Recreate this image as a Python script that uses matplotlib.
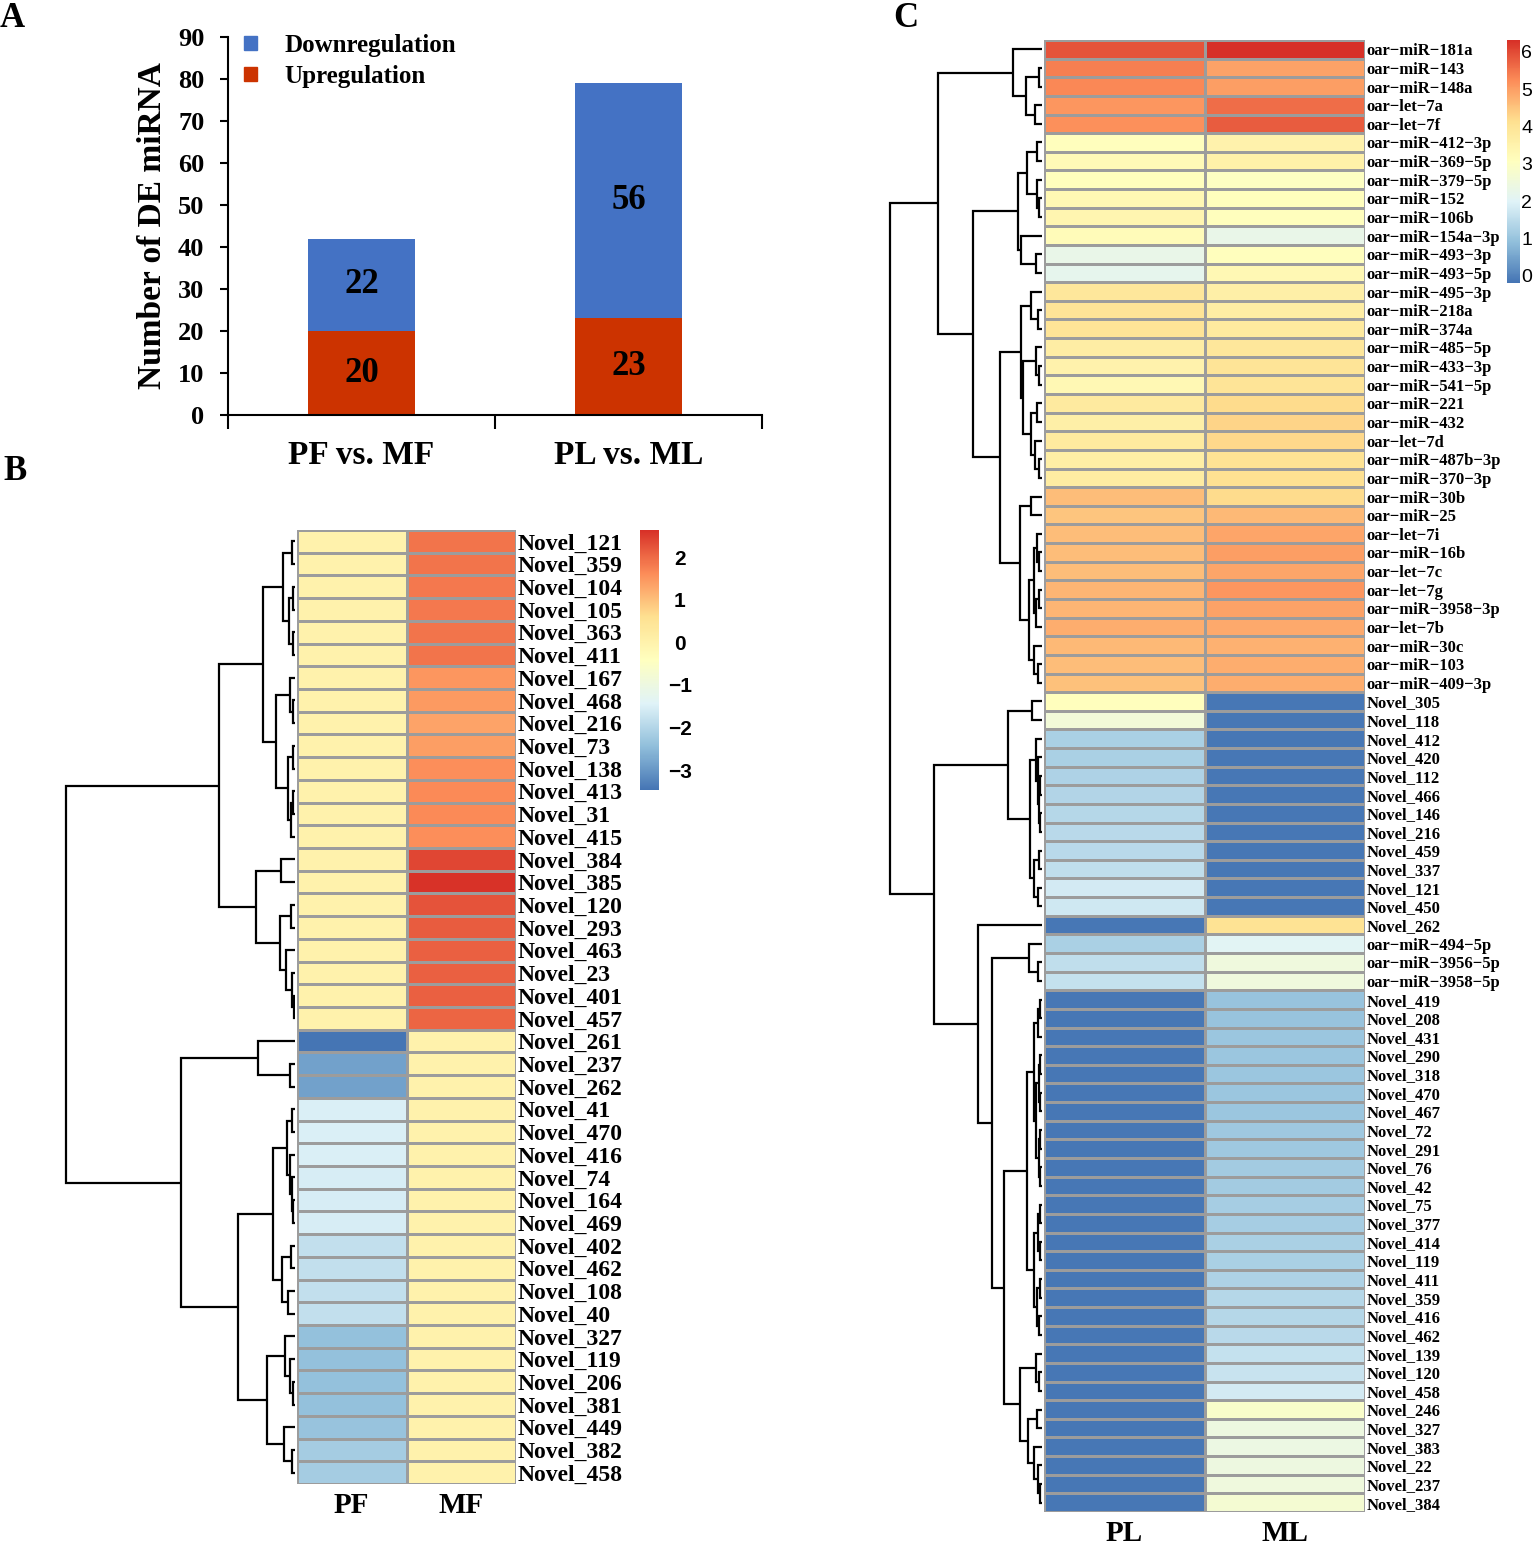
import matplotlib
matplotlib.use("Agg")
import matplotlib.pyplot as plt
from matplotlib.colors import LinearSegmentedColormap, Normalize
from matplotlib.patches import Patch
import numpy as np

W, H, DPI = 1535, 1551, 100
SERIF = "Liberation Serif"
SANS = "Liberation Sans"

# ---------------- Panel A data ----------------
comparisons = ["PF vs. MF", "PL vs. ML"]
upregulation = [20, 23]
downregulation = [22, 56]

# ---------------- Panel B data ----------------
b_rows = ["Novel_121", "Novel_359", "Novel_104", "Novel_105", "Novel_363", "Novel_411",
          "Novel_167", "Novel_468", "Novel_216", "Novel_73", "Novel_138", "Novel_413",
          "Novel_31", "Novel_415", "Novel_384", "Novel_385", "Novel_120", "Novel_293",
          "Novel_463", "Novel_23", "Novel_401", "Novel_457", "Novel_261", "Novel_237",
          "Novel_262", "Novel_41", "Novel_470", "Novel_416", "Novel_74", "Novel_164",
          "Novel_469", "Novel_402", "Novel_462", "Novel_108", "Novel_40", "Novel_327",
          "Novel_119", "Novel_206", "Novel_381", "Novel_449", "Novel_382", "Novel_458"]
b_pf = [0.0] * 22 + [-3.45, -2.85, -2.85, -1.5, -1.5, -1.5, -1.55, -1.55, -1.55,
                     -1.8, -1.8, -1.8, -1.8, -2.4, -2.4, -2.4, -2.4, -2.35, -2.2, -2.2]
b_mf = [1.9, 1.9, 1.85, 1.85, 1.9, 1.9, 1.5, 1.45, 1.35, 1.4, 1.6, 1.65, 1.65, 1.6,
        2.4, 2.6, 2.25, 2.15, 2.1, 2.1, 2.1, 2.05] + [0.0] * 20
b_columns = ["PF", "MF"]
b_ticks = [-3, -2, -1, 0, 1, 2]
# dendrogram: (merge height, left, right); leaves are row indices
TREE_B = (229,
          (76,
           (32,
            (12, (3, 0, 1), (6, (2, 2, 3), (2, 4, 5))),
            (19, (5, 6, (2, 7, 8)), (7, (2, 9, 10), (4, (2, 11, 12), 13)))),
           (39,
            (14, 14, 15),
            (15, (4, 16, 17), (9, 18, (3, 19, (1, 20, 21)))))),
          (114,
           (37, 22, (5, 23, 24)),
           (57,
            (22,
             (8, (3, 25, 26), (5, 27, (3, 28, (2, 29, 30)))),
             (13, (4, 31, 32), (7, 33, 34))),
            (28,
             (10, 35, (5, 36, (2, 37, 38))),
             (11, 39, (3, 40, 41))))))

# ---------------- Panel C data ----------------
c_rows = ["oar−miR−181a", "oar−miR−143", "oar−miR−148a", "oar−let−7a", "oar−let−7f",
          "oar−miR−412−3p", "oar−miR−369−5p", "oar−miR−379−5p", "oar−miR−152", "oar−miR−106b",
          "oar−miR−154a−3p", "oar−miR−493−3p", "oar−miR−493−5p", "oar−miR−495−3p", "oar−miR−218a",
          "oar−miR−374a", "oar−miR−485−5p", "oar−miR−433−3p", "oar−miR−541−5p", "oar−miR−221",
          "oar−miR−432", "oar−let−7d", "oar−miR−487b−3p", "oar−miR−370−3p", "oar−miR−30b",
          "oar−miR−25", "oar−let−7i", "oar−miR−16b", "oar−let−7c", "oar−let−7g",
          "oar−miR−3958−3p", "oar−let−7b", "oar−miR−30c", "oar−miR−103", "oar−miR−409−3p",
          "Novel_305", "Novel_118", "Novel_412", "Novel_420", "Novel_112", "Novel_466",
          "Novel_146", "Novel_216", "Novel_459", "Novel_337", "Novel_121", "Novel_450",
          "Novel_262", "oar−miR−494−5p", "oar−miR−3956−5p", "oar−miR−3958−5p",
          "Novel_419", "Novel_208", "Novel_431", "Novel_290", "Novel_318", "Novel_470",
          "Novel_467", "Novel_72", "Novel_291", "Novel_76", "Novel_42", "Novel_75",
          "Novel_377", "Novel_414", "Novel_119", "Novel_411", "Novel_359", "Novel_416",
          "Novel_462", "Novel_139", "Novel_120", "Novel_458", "Novel_246", "Novel_327",
          "Novel_383", "Novel_22", "Novel_237", "Novel_384"]
c_pl = [5.9, 5.4, 5.3, 5.1, 5.2,
        3.1, 3.25, 3.1, 3.3, 3.4, 3.2, 2.3, 2.2,
        3.9, 4.0, 4.0, 3.7, 3.5, 3.3, 3.8, 3.6, 3.8, 3.65, 3.75,
        4.6, 4.5, 4.6, 4.6, 4.6, 4.7, 4.7, 4.8, 4.65, 4.6, 4.55,
        3.1, 2.6, 1.25, 1.25, 1.3, 1.35, 1.4, 1.45, 1.45, 1.55, 1.8, 1.75,
        -0.15, 1.25, 1.55, 1.6] + [-0.15] * 28
c_ml = [6.3, 4.95, 5.0, 5.6, 5.8,
        3.5, 3.55, 3.0, 3.1, 3.1, 2.3, 3.1, 3.3,
        3.6, 3.7, 3.8, 3.9, 4.0, 4.0, 4.2, 4.3, 4.25, 4.05, 4.1,
        4.2, 4.65, 4.9, 5.0, 4.9, 5.1, 4.95, 4.85, 4.75, 4.8, 4.8,
        -0.15, -0.15, -0.15, -0.15, -0.15, -0.15, -0.15, -0.15, -0.15, -0.15, -0.15, -0.15,
        4.05, 2.05, 2.5, 2.5,
        1.0, 1.0, 1.05, 1.05, 1.05, 1.05, 1.05, 1.1, 1.1, 1.15, 1.15, 1.2, 1.2, 1.25,
        1.25, 1.3, 1.4, 1.4, 1.45, 1.6, 1.65, 1.8, 2.85, 2.45, 2.4, 2.45, 2.5, 2.7]
c_columns = ["PL", "ML"]
c_ticks = [0, 1, 2, 3, 4, 5, 6]
TREE_C = (152,
          (104,
           (29, 0, (16, (3, 1, 2), (7, 3, 4))),
           (69,
            (24,
             (15, (5, 5, 6), (5, 7, (3, 8, 9))),
             (21, 10, (6, 11, 12))),
            (42,
             (21,
              (11, 13, (4, 14, 15)),
              (19, (6, 16, (3, 17, 18)), (11, (5, 19, 20), (7, 21, (3, 22, 23))))),
             (22,
              (11, 24, 25),
              (13,
               (8, (5, 26, (3, 27, 28)), (6, (3, 29, 30), 31)),
               (8, 32, (4, 33, 34))))))),
          (108,
           (34,
            (10, 35, 36),
            (12,
             (6, 37, (4, 38, (3, (2, 39, 40), (2, 41, 42)))),
             (8, (3, 43, 44), (4, 45, 46)))),
           (64,
            47,
            (50,
             (13, 48, (4, 49, 50)),
             (38,
              (15,
               (8, (4, (2, 51, 52), 53),
                (6, (3, (2, 54, 55), (2, 56, 57)), (3, (2, 58, 59), (2, 60, 61)))),
               (8, (4, (2, 62, 63), (2, 64, 65)), (5, (2, 66, 67), (3, 68, 69)))),
              (22,
               (6, 70, (3, 71, 72)),
               (14, (5, 73, 74), (8, 75, (4, 76, (2, 77, 78))))))))))

HEAT_COLORS = ["#4575B4", "#91BFDB", "#E0F3F8", "#FFFFBF", "#FEE090", "#FC8D59", "#D73027"]
cmap = LinearSegmentedColormap.from_list("rdylbu_r", HEAT_COLORS, N=256)

fig = plt.figure(figsize=(W / DPI, H / DPI), dpi=DPI)
fig.patch.set_facecolor("white")


def px_axes(x0, y0, x1, y1):
    return fig.add_axes([x0 / W, 1 - y1 / H, (x1 - x0) / W, (y1 - y0) / H])


def draw_dendro(ax, node):
    if isinstance(node, int):
        return node + 0.5, 0.0
    h, left, right = node
    yl, hl = draw_dendro(ax, left)
    yr, hr = draw_dendro(ax, right)
    ax.plot([hl, h, h, hr], [yl, yl, yr, yr], color="black", lw=1.6,
            solid_joinstyle="miter", solid_capstyle="butt")
    return (yl + yr) / 2, h


def heatmap(ax, cols, rows, colnames, vmin, vmax, label_size, col_size, col_pad):
    M = np.column_stack(cols)
    mesh = ax.pcolormesh(M, cmap=cmap, norm=Normalize(vmin, vmax),
                         edgecolors="#9C9C9C", linewidth=1.0)
    ax.set_xlim(0, M.shape[1])
    ax.set_ylim(M.shape[0], 0)
    ax.set_yticks(np.arange(len(rows)) + 0.5)
    ax.set_yticklabels(rows, fontfamily=SERIF, fontweight="bold", fontsize=label_size)
    ax.yaxis.tick_right()
    ax.set_xticks(np.arange(len(colnames)) + 0.5)
    ax.set_xticklabels(colnames, fontfamily=SERIF, fontweight="bold", fontsize=col_size)
    ax.tick_params(axis="both", length=0)
    ax.tick_params(axis="y", pad=1)
    ax.tick_params(axis="x", pad=col_pad)
    for s in ax.spines.values():
        s.set_visible(False)
    return mesh


# ================= Panel A =================
axA = px_axes(228, 37, 762, 415)
xpos = np.arange(len(comparisons))
axA.bar(xpos, upregulation, width=0.4, color="#CC3300", label="Upregulation")
axA.bar(xpos, downregulation, bottom=upregulation, width=0.4, color="#4472C4",
        label="Downregulation")
for xi, u, d in zip(xpos, upregulation, downregulation):
    axA.text(xi, u / 2, str(u), ha="center", va="center", fontfamily=SERIF,
             fontweight="bold", fontsize=25, color="black")
    axA.text(xi, u + d / 2, str(d), ha="center", va="center", fontfamily=SERIF,
             fontweight="bold", fontsize=25, color="black")
axA.set_xlim(-0.5, 1.5)
axA.set_ylim(0, 90)
axA.set_yticks(np.arange(0, 91, 10))
axA.set_yticklabels([str(v) for v in range(0, 91, 10)], fontfamily=SERIF,
                    fontweight="bold", fontsize=19)
axA.set_xticks([-0.5, 0.5, 1.5])
axA.set_xticklabels([])
axA.set_xticks(xpos, minor=True)
axA.set_xticklabels(comparisons, minor=True, fontfamily=SERIF, fontweight="bold", fontsize=24)
axA.tick_params(axis="x", which="major", length=10, width=1.5, direction="out")
axA.tick_params(axis="x", which="minor", length=0, pad=18)
axA.tick_params(axis="y", length=6, width=1.5, direction="out", pad=11)
for side in ("top", "right"):
    axA.spines[side].set_visible(False)
axA.spines["left"].set_linewidth(1.5)
axA.spines["bottom"].set_linewidth(1.5)
axA.set_ylabel("Number of DE miRNA", fontfamily=SERIF, fontweight="bold", fontsize=24,
               labelpad=7)
hA = [Patch(color="#4472C4", label="Downregulation"), Patch(color="#CC3300", label="Upregulation")]
axA.legend(handles=hA, loc="upper left", bbox_to_anchor=(0.012, 1.035), borderaxespad=0,
           frameon=False, handlelength=0.5, handleheight=0.5, handletextpad=1.1,
           labelspacing=0.33, prop={"family": SERIF, "weight": "bold", "size": 18})

# ================= Panel B =================
axB = px_axes(297, 530, 516, 1484)
meshB = heatmap(axB, [b_pf, b_mf], b_rows, b_columns, -3.47, 2.64, 17, 21, 6)
axDB = px_axes(60, 530, 295, 1484)
draw_dendro(axDB, TREE_B)
axDB.set_xlim(235, 0)
axDB.set_ylim(len(b_rows), 0)
axDB.axis("off")
caxB = px_axes(640, 530, 659, 790)
cbB = fig.colorbar(meshB, cax=caxB, ticks=b_ticks)
cbB.outline.set_visible(False)
cbB.ax.tick_params(length=0, pad=15)
cbB.ax.set_yticklabels([str(t).replace("-", "−") for t in b_ticks], fontfamily=SANS,
                       fontweight="bold", fontsize=15, ha="center")

# ================= Panel C =================
axC = px_axes(1044, 40, 1365, 1512)
meshC = heatmap(axC, [c_pl, c_ml], c_rows, c_columns, -0.19, 6.32, 12, 21, 6)
axDC = px_axes(880, 40, 1042, 1512)
draw_dendro(axDC, TREE_C)
axDC.set_xlim(162, 0)
axDC.set_ylim(len(c_rows), 0)
axDC.axis("off")
caxC = px_axes(1507, 40, 1520, 283)
cbC = fig.colorbar(meshC, cax=caxC, ticks=c_ticks)
cbC.outline.set_visible(False)
cbC.ax.tick_params(length=0, pad=1)
cbC.ax.set_yticklabels([str(t) for t in c_ticks], fontfamily=SANS, fontsize=14)

# ================= Panel letters =================
fig.text(0 / W, 1 - 2 / H, "A", ha="left", va="top", fontfamily=SERIF, fontweight="bold", fontsize=25)
fig.text(3 / W, 1 - 455 / H, "B", ha="left", va="top", fontfamily=SERIF, fontweight="bold", fontsize=25)
fig.text(893 / W, 1 - 2 / H, "C", ha="left", va="top", fontfamily=SERIF, fontweight="bold", fontsize=25)

fig.savefig("out.png", dpi=DPI, facecolor="white")
